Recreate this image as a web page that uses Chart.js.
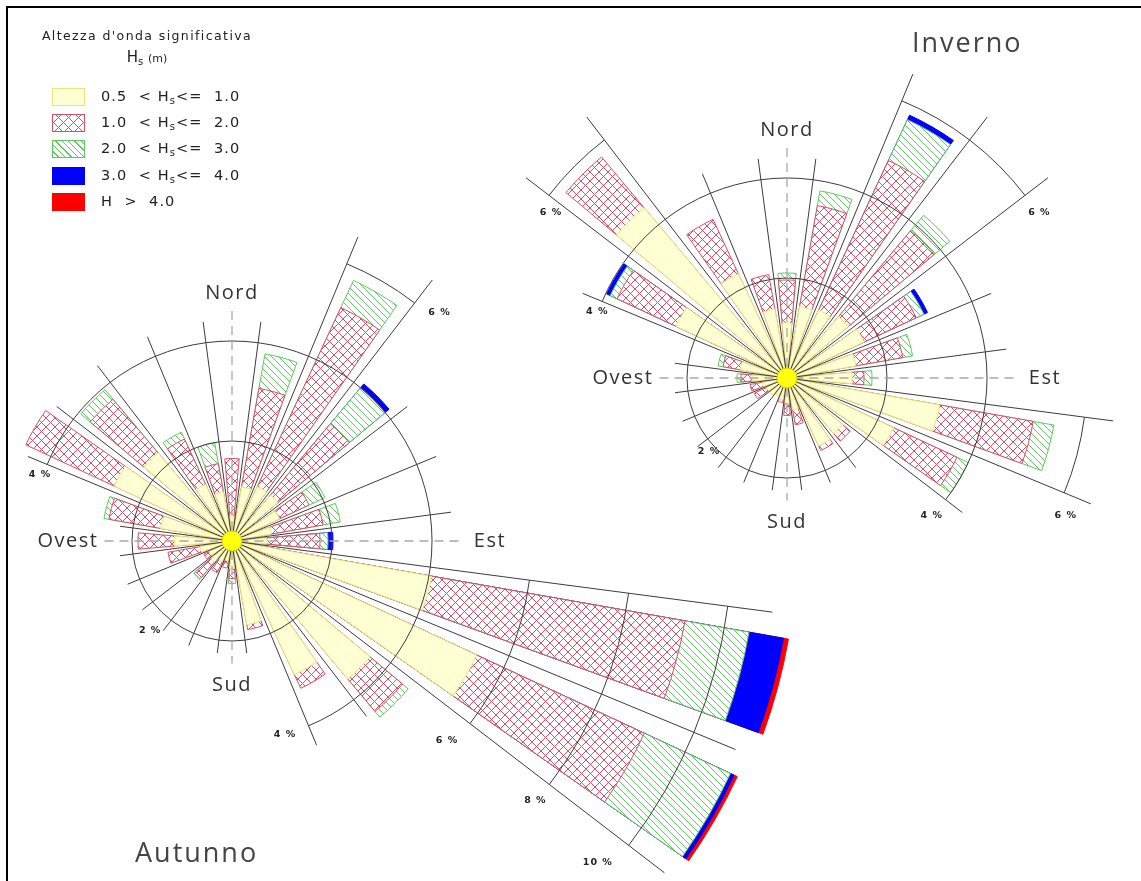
<!DOCTYPE html>
<html lang="it">
<head>
<meta charset="utf-8">
<title>Altezza d'onda significativa - Inverno / Autunno</title>
<script src="https://cdn.jsdelivr.net/npm/chart.js@4.4.1/dist/chart.umd.min.js"></script>
<style>
  html, body { margin: 0; padding: 0; background: #fff; }
  #page { position: relative; width: 1141px; height: 881px; overflow: hidden; background: #fff; font-family: "DejaVu Sans", sans-serif; color: #222; }
  #page canvas { position: absolute; }
  .frame { position: absolute; left: 6px; top: 6px; right: -10px; bottom: -10px; border-top: 2px solid #000; border-left: 2px solid #000; }
  .legend-title { position: absolute; left: 20px; top: 28px; width: 254px; text-align: center; font-size: 12.5px; letter-spacing: 1.4px; }
  .legend-unit { position: absolute; left: 20px; top: 48px; width: 254px; text-align: center; font-size: 15px; }
  .legend-unit small { font-size: 11px; }
  .sw { position: absolute; left: 52px; width: 31px; height: 16px; }
  .txt { position: absolute; left: 101px; font-size: 14.5px; letter-spacing: 1.1px; white-space: pre; line-height: 18px; }
  sub { font-size: 10px; vertical-align: -3px; }
  .season { position: absolute; font-family: "Open Sans", sans-serif; font-size: 27px; letter-spacing: 2px; color: #444; line-height: 28px; }
</style>
</head>
<body>
<div id="page">
  <canvas id="autunno" width="1200" height="1200" style="left:-368px; top:-59px;"></canvas>
  <canvas id="inverno" width="700" height="700" style="left:437px; top:28px;"></canvas>
  <div class="frame"></div>
  <div class="legend-title">Altezza d'onda significativa</div>
  <div class="legend-unit">H<sub>s</sub> <small>(m)</small></div>
  <div id="legend"></div>
  <div class="season" style="left:912px; top:28px;">Inverno</div>
  <div class="season" style="left:135px; top:838px;">Autunno</div>
</div>
<script>
// settori di provenienza (gradi N), 24 settori da 15°
const directions = [0, 15, 30, 45, 60, 75, 90, 105, 120, 135, 150, 165, 180, 195, 210, 225, 240, 255, 270, 285, 300, 315, 330, 345];
const classLabels = ['0.5  < H_s<=  1.0', '1.0  < H_s<=  2.0', '2.0  < H_s<=  3.0', '3.0  < H_s<=  4.0', 'H  >  4.0'];

// Autunno - frequenze (%) per classe di Hs
const autunnoHs05_10 = [0.5, 1.1, 1.2, 1.2, 1.05, 0.8, 0.7, 4.05, 5.4, 3.6, 2.95, 1.7, 0.55, 0.4, 0.45, 0.55, 0.5, 0.65, 1.15, 1.45, 2.6, 2.3, 1.25, 1.0];
const autunnoHs10_20 = [1.15, 2.0, 3.95, 1.86, 0.65, 1.05, 1.06, 5.15, 3.7, 0.85, 0.3, 0.1, 0.2, 0.15, 0.25, 0.4, 0.12, 0.65, 0.73, 1.05, 1.95, 1.4, 1.0, 0.57];
const autunnoHs20_30 = [0, 0.7, 0.6, 0.94, 0.35, 0.35, 0.16, 1.3, 1.9, 0.15, 0, 0, 0.1, 0, 0, 0.05, 0, 0, 0, 0.1, 0, 0.25, 0.15, 0.43];
const autunnoHs30_40 = [0, 0, 0, 0.1, 0, 0, 0.1, 0.7, 0.08, 0, 0, 0, 0, 0, 0, 0, 0, 0, 0, 0, 0, 0, 0, 0];
const autunnoHs40    = [0, 0, 0, 0, 0, 0, 0, 0.1, 0.07, 0, 0, 0, 0, 0, 0, 0, 0, 0, 0, 0, 0, 0, 0, 0];

// Inverno - frequenze (%) per classe di Hs
const invernoHs05_10 = [1.1, 1.45, 1.5, 1.6, 1.7, 1.4, 1.3, 3.1, 2.35, 1.45, 1.5, 0.65, 0.5, 0.45, 0.4, 0.45, 0.45, 0.5, 0.7, 0.95, 2.45, 4.45, 2.3, 1.4];
const invernoHs10_20 = [0.86, 2.05, 3.3, 2.25, 1.15, 0.95, 0.24, 1.9, 1.4, 0.2, 0.1, 0.3, 0.25, 0.05, 0, 0, 0.27, 0.25, 0.22, 0.35, 1.3, 1.32, 1.2, 0.7];
const invernoHs20_30 = [0.14, 0.3, 0.9, 0.4, 0.17, 0.2, 0.16, 0.42, 0.25, 0, 0, 0, 0, 0, 0, 0, 0, 0, 0.08, 0.1, 0.15, 0, 0, 0];
const invernoHs30_40 = [0, 0, 0.1, 0, 0.08, 0, 0, 0, 0, 0, 0, 0, 0, 0, 0, 0, 0, 0, 0, 0, 0.08, 0, 0, 0];
const invernoHs40    = [0, 0, 0, 0, 0, 0, 0, 0, 0, 0, 0, 0, 0, 0, 0, 0, 0, 0, 0, 0, 0, 0, 0, 0];

// anello piu' esterno della griglia disegnato in ogni settore (%)
const autunnoRings = [4, 4, 6, 4, 4, 4, 4, 10, 10, 4, 4, 2, 2, 2, 2, 2, 2, 2, 2, 2, 4, 4, 4, 4];
const invernoRings = [4, 4, 6, 6, 4, 4, 4, 6, 4, 2, 2, 2, 2, 2, 2, 2, 2, 2, 2, 2, 4, 6, 4, 4];

// etichette degli anelli: [testo, direzione, valore]
const autunnoRingLabels = [['2 %', 222.6, 2.42], ['4 %', 289, 4.06], ['4 %', 164.7, 4.02], ['6 %', 42.2, 6.18], ['6 %', 132.8, 5.86], ['8 %', 130.5, 7.98], ['10 %', 131.3, 9.74]];
const invernoRingLabels = [['6 %', 305.1, 5.77], ['4 %', 289.2, 4.02], ['6 %', 56.7, 6.04], ['2 %', 226.5, 2.15], ['4 %', 133.6, 4.0], ['6 %', 116.3, 6.22]];

// punti cardinali: [testo, direzione, fine asse tratteggiato, posizione testo]
const compassLabels = [['Nord', 0, 4.6, 4.96], ['Est', 90, 4.6, 5.16], ['Sud', 180, 2.45, 2.88], ['Ovest', 270, 2.55, 3.28]];

const BAR_ANGLE = 10;   // larghezza barra (gradi)
const GAP_ANGLE = 5;    // spazio tra settori

function hatchPattern(color, size, cross) {
    const c = document.createElement('canvas');
    c.width = c.height = size;
    const g = c.getContext('2d');
    g.fillStyle = '#fff';
    g.fillRect(0, 0, size, size);
    g.strokeStyle = color;
    g.lineWidth = 1;
    g.beginPath();
    g.moveTo(0, 0); g.lineTo(size, size);
    if (cross) {
        g.moveTo(size, 0); g.lineTo(0, size);
    }
    g.stroke();
    return g.createPattern(c, 'repeat');
}

const fills = ['#ffffd4', hatchPattern('#d6506a', 9, true), hatchPattern('#5ccc5c', 7, false), '#0000ff', '#ff0000'];
const borders = ['#ece47c', '#d6506a', '#5ccc5c', '#0000ff', '#ff0000'];

const roseFrame = {
    id: 'roseFrame',
    afterDatasetsDraw(chart, args, opts) {
        const s = chart.scales.r;
        const g = chart.ctx;
        const cx = s.xCenter, cy = s.yCenter;
        const dist = v => s.getDistanceFromCenterForValue(v);
        const ang = b => (b - 90) * Math.PI / 180;
        const pt = (b, v) => [cx + Math.cos(ang(b)) * dist(v), cy + Math.sin(ang(b)) * dist(v)];
        const n = directions.length;

        g.save();
        g.strokeStyle = '#3c3c3c';
        g.lineWidth = 1;
        // archi degli anelli, settore per settore
        directions.forEach((d, i) => {
            for (let v = 2; v <= opts.rings[i]; v += 2) {
                g.beginPath();
                g.arc(cx, cy, dist(v), ang(d - 7.5), ang(d + 7.5));
                g.stroke();
            }
        });
        // linee di separazione dei settori
        directions.forEach((d, i) => {
            const top = Math.max(opts.rings[i], opts.rings[(i + 1) % n]) * 1.08 + 0.1;
            const [x, y] = pt(d + 7.5, top);
            g.beginPath();
            g.moveTo(cx, cy);
            g.lineTo(x, y);
            g.stroke();
        });

        // assi tratteggiati
        g.strokeStyle = '#a8a8a8';
        g.lineWidth = 1.3;
        g.setLineDash([9, 6]);
        const ends = compassLabels.map(c => pt(c[1], c[2]));
        g.beginPath();
        g.moveTo(ends[0][0], ends[0][1]); g.lineTo(ends[2][0], ends[2][1]);
        g.moveTo(ends[3][0], ends[3][1]); g.lineTo(ends[1][0], ends[1][1]);
        g.stroke();
        g.setLineDash([]);

        // cerchio centrale
        g.beginPath();
        g.arc(cx, cy, dist(0.2), 0, 2 * Math.PI);
        g.fillStyle = '#ffff10';
        g.fill();
        g.strokeStyle = '#e0cf00';
        g.lineWidth = 1;
        g.stroke();

        // testi
        g.textAlign = 'center';
        g.textBaseline = 'middle';
        g.fillStyle = '#333';
        g.font = '20px "Open Sans", sans-serif';
        g.letterSpacing = '1.5px';
        compassLabels.forEach(c => {
            const [x, y] = pt(c[1], c[3]);
            g.fillText(c[0], x, y);
        });
        g.font = 'bold 9.5px "DejaVu Sans", sans-serif';
        g.letterSpacing = '1px';
        g.fillStyle = '#222';
        opts.labels.forEach(l => {
            const [x, y] = pt(l[1], l[2]);
            g.fillText(l[0], x, y);
        });
        g.restore();
    }
};

function makeRose(canvasId, maxPct, series, rings, ringLabels) {
    const labels = [];
    directions.forEach(d => { labels.push(d + '°'); labels.push(''); });

    const datasets = series.map((values, k) => {
        const data = [];
        directions.forEach((d, i) => {
            let cum = 0;
            for (let j = 0; j <= k; j++) cum += series[j][i];
            data.push(values[i] > 0 ? cum : 0);
            data.push(0); // spazio tra i settori
        });
        return {
            label: classLabels[k],
            data: data,
            backgroundColor: fills[k],
            borderColor: borders[k],
            borderWidth: c => (c.dataIndex % 2 ? 0 : 1),
            angle: c => (c.dataIndex % 2 ? GAP_ANGLE : BAR_ANGLE)
        };
    });

    return new Chart(document.getElementById(canvasId), {
        type: 'polarArea',
        data: { labels: labels, datasets: datasets },
        options: {
            responsive: false,
            animation: false,
            events: [],
            layout: { padding: 0 },
            plugins: {
                legend: { display: false },
                tooltip: { enabled: false },
                roseFrame: { rings: rings, labels: ringLabels }
            },
            scales: {
                r: {
                    min: 0,
                    max: maxPct,
                    startAngle: -BAR_ANGLE / 2,
                    ticks: { display: false },
                    grid: { display: false },
                    angleLines: { display: false },
                    pointLabels: { display: false }
                }
            }
        },
        plugins: [roseFrame]
    });
}

// legenda
const swatchCss = [
    'background:#ffffd4; border:1px solid #ece47c;',
    'background: repeating-linear-gradient(45deg, transparent 0 6px, #d6506a 6px 7px), repeating-linear-gradient(-45deg, transparent 0 6px, #d6506a 6px 7px), #fff; border:1px solid #d6506a;',
    'background: repeating-linear-gradient(45deg, #fff 0 3.5px, #5ccc5c 3.5px 4.5px); border:1px solid #5ccc5c;',
    'background:#0000ff; border:1px solid #0000ff;',
    'background:#ff0000; border:1px solid #ff0000;'
];
const legend = document.getElementById('legend');
classLabels.forEach((t, k) => {
    const top = 88 + k * 26.2;
    const html = t.replace('<', '&lt;').replace('<=', '&lt;=').replace('>', '&gt;').replace('H_s', 'H<sub>s</sub>');
    legend.insertAdjacentHTML('beforeend',
        '<div class="sw" style="top:' + top + 'px;' + swatchCss[k] + '"></div>' +
        '<div class="txt" style="top:' + (top - 1) + 'px;">' + html + '</div>');
});

makeRose('autunno', 12, [autunnoHs05_10, autunnoHs10_20, autunnoHs20_30, autunnoHs30_40, autunnoHs40], autunnoRings, autunnoRingLabels);
makeRose('inverno', 7, [invernoHs05_10, invernoHs10_20, invernoHs20_30, invernoHs30_40, invernoHs40], invernoRings, invernoRingLabels);
</script>
</body>
</html>
